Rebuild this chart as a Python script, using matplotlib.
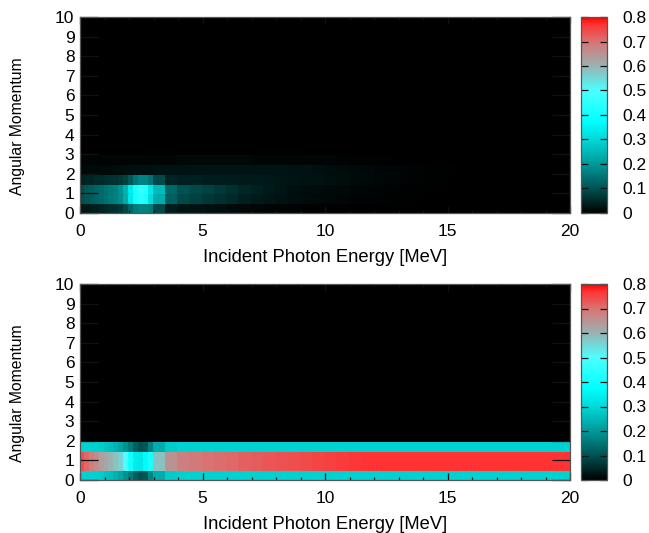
import numpy as np
import matplotlib
matplotlib.use("Agg")
import matplotlib.pyplot as plt
from matplotlib.colors import LinearSegmentedColormap, Normalize
from matplotlib.ticker import MultipleLocator

plt.rcParams['font.family'] = ['Liberation Sans', 'DejaVu Sans']

# Energy bin edges (MeV): fine up to 3, then 0.5 wide
E_EDGES = [0, .2, .4, .6, .8, 1.0, 1.2, 1.4, 1.6, 1.8, 2.0, 2.2, 2.4, 2.6, 2.8, 3.0,
           3.5, 4, 4.5, 5, 5.5, 6, 6.5, 7, 7.5, 8, 8.5, 9, 9.5, 10, 10.5, 11, 11.5, 12,
           12.5, 13, 13.5, 14, 14.5, 15, 15.5, 16, 16.5, 17, 17.5, 18, 18.5, 19, 19.5, 20]
# Angular-momentum row edges
L_EDGES_TOP = [0, .5, 1, 1.5, 2, 2.5, 3, 10]
L_EDGES_BOTTOM = [0, .5, 1, 1.5, 2, 10]

# Upper panel rows (low to high angular momentum)
top_r0 = [.03, .03, .035, .04, .045, .05, .055, .06, .07, .09, .13, .16, .17, .17, .16,
          .09, .035, .025, .022, .02, .018, .014, .01, .008, .006, .005, .004, .003, .002, .002,
          .002, .001, .001, .001, 0, 0, 0, 0, 0, 0, 0, 0, 0, 0, 0, 0, 0, 0, 0]
top_r1 = [.095, .105, .115, .125, .135, .145, .155, .165, .185, .23, .33, .41, .44, .42, .31,
          .23, .12, .09, .08, .07, .06, .05, .04, .032, .027, .022, .018, .015, .012, .01,
          .008, .006, .005, .004, .003, .002, .002, .001, .001, 0, 0, 0, 0, 0, 0, 0, 0, 0, 0]
top_r2 = [.09, .105, .115, .125, .135, .145, .155, .165, .19, .24, .34, .42, .46, .44, .33,
          .25, .13, .10, .09, .08, .07, .058, .046, .038, .032, .025, .02, .017, .015, .012,
          .01, .008, .006, .005, .004, .003, .002, .002, .001, .001, 0, 0, 0, 0, 0, 0, 0, 0, 0]
top_r3 = [.04, .045, .045, .05, .05, .055, .06, .065, .07, .08, .11, .15, .17, .17, .15,
          .09, .045, .04, .038, .036, .035, .034, .032, .032, .03, .028, .026, .024, .022, .02,
          .017, .014, .011, .009, .007, .005, .004, .003, .002, .001, .001, 0, 0, 0, 0, 0, 0, 0, 0]
top_r4 = [.012, .012, .012, .012, .014, .014, .014, .016, .016, .018, .018, .02, .02, .02, .02,
          .024, .024, .024, .025, .025, .025, .025, .026, .026, .026, .026, .024, .022, .02, .017,
          .015, .013, .011, .009, .007, .005, .004, .003, .002, .002, .001, .001, 0, 0, 0, 0, 0, 0, 0]
top_r5 = [.005, .005, .005, .005, .005, .005, .005, .006, .006, .006, .006, .006, .006, .006, .006,
          .008, .008, .01, .01, .01, .01, .01, .01, .008, .008, .008, .007, .006, .005, .005,
          .004, .003, .003, .002, .002, .001, .001, 0, 0, 0, 0, 0, 0, 0, 0, 0, 0, 0, 0]
top_r6 = [0] * 49

# Lower panel rows
bot_r0 = [.29, .29, .29, .29, .28, .27, .26, .24, .22, .19, .16, .12, .10, .11, .17,
          .23, .28, .29, .29, .29, .29, .29, .29, .29, .29, .29, .29, .29, .29, .29,
          .29, .29, .29, .29, .29, .29, .29, .29, .29, .29, .29, .29, .29, .29, .29, .29, .29, .29, .29]
bot_r1 = [.74, .71, .68, .66, .63, .62, .60, .58, .56, .50, .40, .34, .33, .37, .42,
          .58, .65, .68, .69, .70, .705, .71, .72, .725, .73, .735, .74, .745, .75, .755,
          .76, .765, .77, .77, .77, .77, .77, .77, .77, .77, .77, .77, .77, .77, .77, .77, .77, .77, .77]
bot_r2 = bot_r1
bot_r3 = bot_r0
bot_r4 = [0] * 49

CB_TICKS = [0, .1, .2, .3, .4, .5, .6, .7, .8]
XLABEL = "Incident Photon Energy [MeV]"
YLABEL = "Angular Momentum"

cmap = LinearSegmentedColormap.from_list("pal", [
    (0 / .8, (0, 0, 0)),
    (.1 / .8, (0, .32, .32)),
    (.2 / .8, (0, .6, .6)),
    (.3 / .8, (0, .85, .85)),
    (.375 / .8, (0, 1, 1)),
    (.5 / .8, (.3, 1, 1)),
    (.6 / .8, (.6, .7, .7)),
    (.7 / .8, (.85, .45, .45)),
    (.77 / .8, (1, .2, .2)),
    (.8 / .8, (1, 0, 0)),
], N=512)
norm = Normalize(0, .8)

W, H = 649, 533
fig = plt.figure(figsize=(W / 100, H / 100), dpi=100)
BORDER = '#555555'


def box(x0, y0, x1, y1):
    return [x0 / W, 1 - y1 / H, (x1 - x0) / W, (y1 - y0) / H]


def panel(y0, y1, l_edges, rows):
    ax = fig.add_axes(box(80, y0, 570, y1))
    m = ax.pcolormesh(E_EDGES, l_edges, np.array(rows, float), cmap=cmap, norm=norm,
                      edgecolors='face', linewidth=0.2)
    ax.set_xlim(0, 20)
    ax.set_ylim(0, 10)
    ax.xaxis.set_major_locator(MultipleLocator(5))
    ax.xaxis.set_minor_locator(MultipleLocator(1))
    ax.yaxis.set_major_locator(MultipleLocator(1))
    ax.tick_params(axis='x', which='major', direction='in', length=5, width=.9, top=True,
                   color='#111111', labelsize=12.5, pad=8)
    ax.tick_params(axis='x', which='minor', direction='in', length=2.5, width=.9, top=True,
                   color='#111111')
    ax.tick_params(axis='y', which='major', direction='in', length=13, width=.9, right=True,
                   color='#111111', labelsize=12.5, pad=4)
    for s in ax.spines.values():
        s.set_color(BORDER)
        s.set_linewidth(.9)
    ax.set_xlabel(XLABEL, fontsize=13.2)
    ax.xaxis.set_label_coords(.5, -.186)
    ax.set_ylabel(YLABEL, fontsize=11.3)
    ax.yaxis.set_label_coords(-.113, .444)

    cax = fig.add_axes(box(581, y0, 607, y1))
    cb = fig.colorbar(m, cax=cax)
    cb.set_ticks(CB_TICKS)
    cb.set_ticklabels(['0', '0.1', '0.2', '0.3', '0.4', '0.5', '0.6', '0.7', '0.8'])
    cax.tick_params(axis='y', which='major', direction='in', length=5, width=.9, left=True,
                    right=True, color='#111111', labelsize=12.5, pad=11)
    cax.minorticks_off()
    cb.outline.set_edgecolor(BORDER)
    cb.outline.set_linewidth(.9)
    return ax


panel(17, 213, L_EDGES_TOP, [top_r0, top_r1, top_r2, top_r3, top_r4, top_r5, top_r6])
panel(284, 480, L_EDGES_BOTTOM, [bot_r0, bot_r1, bot_r2, bot_r3, bot_r4])

fig.savefig("out.png", dpi=100)
